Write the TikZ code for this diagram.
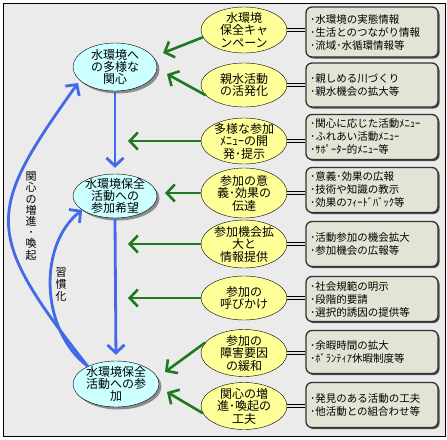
\documentclass[tikz,border=0pt]{standalone}
\usepackage{fontspec}
\setmainfont{Noto Sans CJK JP}
\usepackage{tikz}
\usetikzlibrary{shapes.geometric}
\usetikzlibrary{arrows.meta}
\usetikzlibrary{shadows}
\definecolor{bggray}{RGB}{235,235,235}
\definecolor{kgreen}{RGB}{30,122,30}
\definecolor{kblue}{RGB}{65,105,232}
\definecolor{kyellow}{RGB}{255,255,153}
\definecolor{kcyan}{RGB}{204,255,255}
\definecolor{kbox}{RGB}{228,228,214}
\tikzset{
    goal/.style={shape=ellipse, draw=black, fill=kcyan, minimum width=84pt, minimum height=46pt, inner sep=0pt,
        drop shadow={shadow xshift=2.5pt, shadow yshift=-2.5pt, fill=black!45, opacity=1}},
    means/.style={shape=ellipse, draw=black, fill=kyellow, minimum width=86pt, minimum height=46pt, inner sep=0pt},
    memo/.style={shape=rectangle, rounded corners=6pt, draw=black!80, line width=1.3pt, fill=kbox,
        minimum width=132pt, minimum height=45pt, text width=124pt, inner sep=4pt, align=left,
        font=\fontsize{10.5}{13}\selectfont,
        drop shadow={shadow xshift=1.5pt, shadow yshift=-1.5pt, fill=black!70, opacity=1}},
    gtext/.style={align=center, font=\fontsize{12}{12}\selectfont},
    mtext/.style={align=center, font=\fontsize{12}{12.5}\selectfont},
    vtext/.style={align=center, inner sep=0pt},
    garrow/.style={draw=kgreen, line width=2.6pt, -{Straight Barb[length=8pt, width=17pt]}},
    barrow/.style={draw=kblue, line width=2.8pt, -{Straight Barb[length=8pt, width=17pt]}},
    link/.style={draw=black, double=kbox, double distance=2pt, line width=0.6pt}
}

\begin{document}
\begin{tikzpicture}[x=1pt, y=-1pt]

    \useasboundingbox (0,0) rectangle (447,439);
    \draw[fill=bggray] (3,3) rectangle (445,436);

    \node[goal, minimum height=48pt, label={[gtext]center:{水環境へ\\の多様な\\関心}}] (E1) at (115,67) {};
    \node[goal, minimum height=44pt, label={[gtext]center:{水環境保全\\活動への\\参加希望}}] (E2) at (115,196) {};
    \node[goal, minimum width=86pt, label={[gtext]center:{水環境保全\\活動への参\\加}}] (E3) at (116,384) {};

    \node[means, label={[mtext]center:{水環境\\保全キャ\\ンペーン}}] (Y1) at (244,30) {};
    \node[means, minimum height=44pt, label={[mtext]center:{親水活動\\の活発化}}] (Y2) at (244,85) {};
    \node[means, label={[mtext]center:{多様な参加\\ﾒﾆｭｰの開\\発･提示}}] (Y3) at (244,141) {};
    \node[means, minimum height=50pt, label={[mtext]center:{参加の意\\義･効果の\\伝達}}] (Y4) at (244,193) {};
    \node[means, minimum height=48pt, label={[mtext]center:{参加機会拡\\大と\\情報提供}}] (Y5) at (244,244) {};
    \node[means, minimum height=44pt, label={[mtext]center:{参加の\\呼びかけ}}] (Y6) at (244,298) {};
    \node[means, minimum height=47pt, label={[mtext]center:{参加の\\障害要因\\の緩和}}] (Y7) at (244,353) {};
    \node[means, minimum height=47pt, label={[mtext]center:{関心の増\\進･喚起の\\工夫}}] (Y8) at (244,406) {};

    \node[memo, minimum height=50pt] (B1) at (372,32) {･水環境の実態情報\\･生活とのつながり情報\\･流域･水循環情報等};
    \node[memo, minimum height=44pt] (B2) at (372,85) {･親しめる川づくり\\･親水機会の拡大等};
    \node[memo] (B3) at (372,137) {･関心に応じた活動ﾒﾆｭｰ\\･ふれあい活動ﾒﾆｭｰ\\･ｻﾎﾟｰﾀｰ的ﾒﾆｭｰ等};
    \node[memo] (B4) at (372,190) {･意義･効果の広報\\･技術や知識の教示\\･効果のﾌｨｰﾄﾞﾊﾞｯｸ等};
    \node[memo] (B5) at (372,244) {･活動参加の機会拡大\\･参加機会の広報等};
    \node[memo] (B6) at (372,299) {･社会規範の明示\\･段階的要請\\･選択的誘因の提供等};
    \node[memo, minimum height=43pt] (B7) at (372,352) {･余暇時間の拡大\\･ﾎﾞﾗﾝﾃｨｱ休暇制度等};
    \node[memo] (B8) at (372,405) {･発見のある活動の工夫\\･他活動との組合わせ等};

    \foreach \i in {1,...,8}
        \draw[link] (Y\i.east) -- (Y\i.east -| B\i.west);

    \coordinate (t1) at (163,53);
    \coordinate (t2) at (167,74);
    \coordinate (t3) at (128,141);
    \coordinate (t4) at (165,193);
    \coordinate (t5) at (128,244);
    \coordinate (t6) at (128,298);
    \coordinate (t7) at (165,372);
    \coordinate (t8) at (167,392);

    \draw[garrow] (Y1.190) -- (t1);
    \draw[garrow] (Y2.195) -- (t2);
    \draw[garrow] (Y3.west) -- (t3);
    \draw[garrow] (Y4.west) -- (t4);
    \draw[garrow] (Y5.west) -- (t5);
    \draw[garrow] (Y6.west) -- (t6);
    \draw[garrow] (Y7.165) -- (t7);
    \draw[garrow] (Y8.190) -- (t8);

    \draw[barrow, shorten >=6pt] (E1.south) -- (E2.north);
    \draw[barrow, shorten >=6pt] (E2.south) -- (E3.north);

    \coordinate (c1) at (78,83);
    \coordinate (c2) at (82,210);
    \draw[barrow] (E3.148) .. controls (-18,232) and (-14,212) .. (c1);
    \draw[barrow] (E3.148) .. controls (40,330) and (38,245) .. (c2);

    \node[vtext, font=\fontsize{11}{11.2}\selectfont] (L1) at (31,216) {関\\心\\の\\増\\進\\･\\喚\\起};
    \node[vtext, font=\fontsize{11}{12}\selectfont] (L2) at (61,285) {習\\慣\\化};

\end{tikzpicture}
\end{document}
